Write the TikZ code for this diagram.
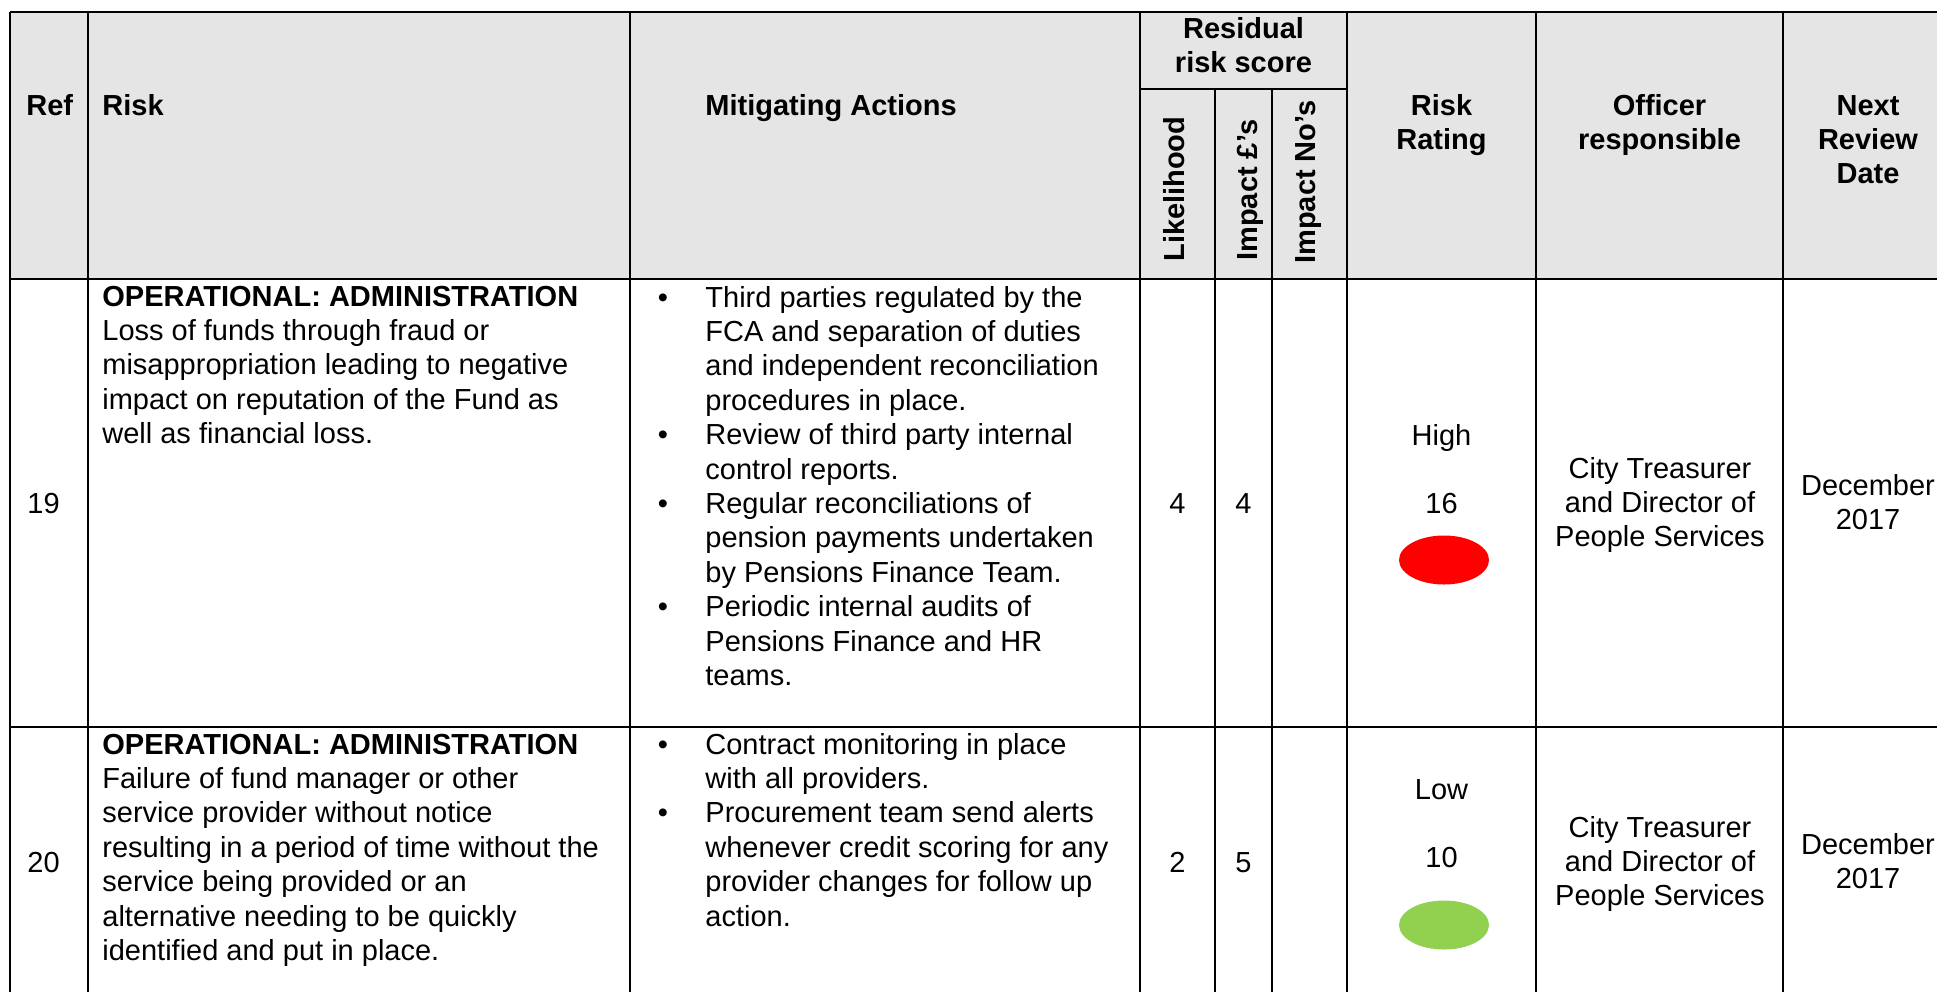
\documentclass[tikz,border=0pt]{standalone}
\usepackage{fontspec}
\setmainfont{Liberation Sans}
\usepackage{xcolor}
\usepackage{tikz}
\usetikzlibrary{shapes.geometric}

\definecolor{headgrey}{RGB}{229,229,229}
\definecolor{highred}{RGB}{255,0,0}
\definecolor{lowgreen}{RGB}{146,208,80}

\tikzset{
  txt/.style={inner sep=0pt, font=\fontsize{14.5}{17.2}\selectfont},
  hd/.style={inner sep=0pt, font=\fontsize{14.5}{17.2}\selectfont\bfseries},
  gridline/.style={line width=1pt},
  ratingdot/.style={ellipse, inner sep=0pt, minimum width=45pt, minimum height=24.5pt}
}

\begin{document}
\begin{tikzpicture}[x=0.5pt, y=-0.5pt]
  \useasboundingbox (0,0) rectangle (1937,992);

  % Header shading
  \fill[headgrey] (10,12) rectangle (1937,279);

  % Horizontal rules
  \draw[gridline] (10,12) -- (1937,12);
  \draw[gridline] (1140,89) -- (1347,89);
  \draw[gridline, line width=1.2pt] (10,279) -- (1937,279);
  \draw[gridline, line width=1.2pt] (10,727) -- (1937,727);

  % Vertical rules
  \draw[gridline] (10,12) -- (10,992);
  \draw[gridline] (88,12) -- (88,992);
  \draw[gridline] (630,12) -- (630,992);
  \draw[gridline] (1140,12) -- (1140,992);
  \draw[gridline] (1215,89) -- (1215,992);
  \draw[gridline] (1272,89) -- (1272,992);
  \draw[gridline] (1347,12) -- (1347,992);
  \draw[gridline] (1536,12) -- (1536,992);
  \draw[gridline] (1783,12) -- (1783,992);

  % Header (multi-line nodes sit on their last baseline)
  \node[hd, anchor=base west] (hRef) at (26,115) {Ref};
  \node[hd, anchor=base west] (hRisk) at (102,115) {Risk};
  \node[hd, anchor=base west] (hActions) at (705,115) {Mitigating Actions};
  \node[hd, anchor=base, align=center] (hResidual) at (1243.5,72.4) {Residual\\risk score};
  \node[hd, anchor=base west, rotate=90] (hLikely) at (1184,262) {Likelihood};
  \node[hd, anchor=base west, rotate=90] (hImpPound) at (1257,261) {Impact £’s};
  \node[hd, anchor=base west, rotate=90] (hImpNo) at (1315,264) {Impact No’s};
  \node[hd, anchor=base, align=center] (hRating) at (1441.5,149.4) {Risk\\Rating};
  \node[hd, anchor=base, align=center] (hOfficer) at (1659.5,149.4) {Officer\\responsible};
  \node[hd, anchor=base, align=center] (hReview) at (1868,183.8) {Next\\Review\\Date};

  % Row 19
  \node[txt, anchor=base west] (ref19) at (27,513) {19};
  \node[txt, anchor=base west, align=left] (risk19) at (102,443.6)
    {\textbf{OPERATIONAL: ADMINISTRATION}\\Loss of funds through fraud or\\misappropriation leading to negative\\impact on reputation of the Fund as\\well as financial loss.};
  \node[txt, anchor=base] (bul19a) at (663,307) {\textbullet};
  \node[txt, anchor=base west, align=left] (act19a) at (705,410.2)
    {Third parties regulated by the\\FCA and separation of duties\\and independent reconciliation\\procedures in place.};
  \node[txt, anchor=base] (bul19b) at (663,444.6) {\textbullet};
  \node[txt, anchor=base west, align=left] (act19b) at (705,479)
    {Review of third party internal\\control reports.};
  \node[txt, anchor=base] (bul19c) at (663,513.4) {\textbullet};
  \node[txt, anchor=base west, align=left] (act19c) at (705,582.2)
    {Regular reconciliations of\\pension payments undertaken\\by Pensions Finance Team.};
  \node[txt, anchor=base] (bul19d) at (663,616.6) {\textbullet};
  \node[txt, anchor=base west, align=left] (act19d) at (705,685.4)
    {Periodic internal audits of\\Pensions Finance and HR\\teams.};
  \node[txt, anchor=base] (like19) at (1177.5,513) {4};
  \node[txt, anchor=base] (imp19) at (1243.5,513) {4};
  \node[txt, anchor=base] (level19) at (1441.5,445) {High};
  \node[txt, anchor=base] (score19) at (1441.5,513) {16};
  \node[ratingdot, fill=highred] (dot19) at (1444,560) {};
  \node[txt, anchor=base, align=center] (officer19) at (1660,546.8)
    {City Treasurer\\and Director of\\People Services};
  \node[txt, anchor=base, align=center] (review19) at (1868,529.4) {December\\2017};

  % Row 20
  \node[txt, anchor=base west] (ref20) at (27,872) {20};
  \node[txt, anchor=base west, align=left] (risk20) at (102,960.4)
    {\textbf{OPERATIONAL: ADMINISTRATION}\\Failure of fund manager or other\\service provider without notice\\resulting in a period of time without the\\service being provided or an\\alternative needing to be quickly\\identified and put in place.};
  \node[txt, anchor=base] (bul20a) at (663,754) {\textbullet};
  \node[txt, anchor=base west, align=left] (act20a) at (705,788.4)
    {Contract monitoring in place\\with all providers.};
  \node[txt, anchor=base] (bul20b) at (663,822.8) {\textbullet};
  \node[txt, anchor=base west, align=left] (act20b) at (705,926)
    {Procurement team send alerts\\whenever credit scoring for any\\provider changes for follow up\\action.};
  \node[txt, anchor=base] (like20) at (1177.5,872) {2};
  \node[txt, anchor=base] (imp20) at (1243.5,872) {5};
  \node[txt, anchor=base] (level20) at (1441.5,799) {Low};
  \node[txt, anchor=base] (score20) at (1441.5,867) {10};
  \node[ratingdot, fill=lowgreen] (dot20) at (1444,925) {};
  \node[txt, anchor=base, align=center] (officer20) at (1660,905.8)
    {City Treasurer\\and Director of\\People Services};
  \node[txt, anchor=base, align=center] (review20) at (1868,888.4) {December\\2017};
\end{tikzpicture}
\end{document}
